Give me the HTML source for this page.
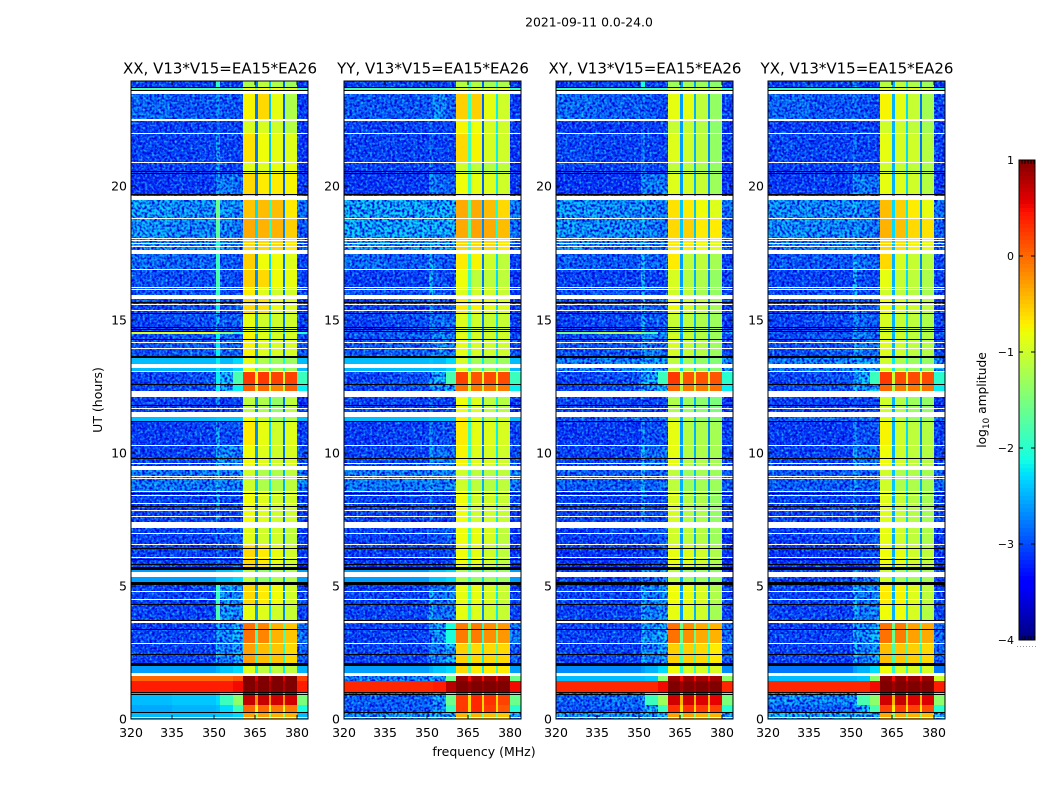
<!DOCTYPE html>
<html>
<head>
<meta charset="utf-8">
<style>
html,body{margin:0;padding:0;background:#fff;}
svg{display:block;font-family:"DejaVu Sans","Liberation Sans",sans-serif;}
</style>
</head>
<body>
<svg id="chart" width="1050" height="800" viewBox="0 0 1050 800" xmlns="http://www.w3.org/2000/svg">
<defs>
<filter id="speckle-dark" x="0" y="0" width="100%" height="100%" color-interpolation-filters="sRGB">
<feTurbulence type="fractalNoise" baseFrequency="0.4" numOctaves="1" seed="3" result="n"/>
<feColorMatrix in="n" type="matrix" values="0 0 0 0 0  0 0 0 0 0  0 0 0 0 0.86  3.5 0 0 0 -1.35" result="c"/>
<feComposite in="c" in2="SourceGraphic" operator="in"/>
</filter>
<filter id="speckle-light" x="0" y="0" width="100%" height="100%" color-interpolation-filters="sRGB">
<feTurbulence type="fractalNoise" baseFrequency="0.44" numOctaves="1" seed="11" result="n"/>
<feColorMatrix in="n" type="matrix" values="0 0 0 0 0.2  0 0 0 0 0.85  0 0 0 0 1  0 2.4 0 0 -1.15" result="c"/>
<feComposite in="c" in2="SourceGraphic" operator="in"/>
</filter>
</defs>
<rect x="0" y="0" width="1050" height="800" fill="#fff"/>
<text x="589" y="26.5" font-size="12.4" text-anchor="middle" fill="#000">2021-09-11 0.0-24.0</text>
</svg>
<script>
// frequency channel edges (MHz): bg0,bg1,line,ramp1,ramp2,s1,n1,s2,n2,s3,n3,s4,edge
const freqEdges = [320,335,350.7,352,357,360.4,364.8,365.8,369.8,370.6,374.9,375.6,380,384];
// time band edges (UT hours, descending)
const timeEdges = [23.96,23.73,23.5,22.52,21.99,20.92,20.52,19.57,18.8,18.07,17.53,16.89,16.18,15.85,15.23,14.52,14.46,13.6,13.08,12.58,12.21,11.44,11.18,10.29,9.42,8.57,7.29,6.5,5.6,5.09,4.28,3.64,2.85,2.05,1.68,1.43,0.97,0.53,0.26,0];

// log10 amplitude per time band, per frequency channel
const levelsXX = [
[-3,-3,-2,-3,-3,-1.2,-2.8,-1.1,-2.4,-1.2,-2.9,-1.3,-3.1],
[-1.8,-1.8,-1.7,-1.8,-1.8,-0.8,-1.5,-0.8,-1.5,-0.8,-1.5,-0.9,-1.9],
[-2.75,-2.85,-2.6,-2.85,-2.9,-0.75,-2.8,-0.6,-2.4,-0.85,-2.9,-1.2,-3.05],
[-3,-3,-2.8,-3,-3,-0.95,-2.8,-0.95,-2.4,-1,-2.9,-1.15,-3.1],
[-3,-3,-2.4,-3,-3,-0.65,-2.8,-0.8,-2.4,-0.85,-2.9,-0.9,-3.1],
[-3,-3,-2.4,-3,-3,-0.9,-2.8,-0.9,-2.4,-0.85,-2.9,-0.85,-3.1],
[-3.1,-3.05,-2.5,-2.6,-2.7,-0.6,-2.8,-0.7,-2.4,-0.7,-2.9,-0.75,-3.1],
[-2.35,-2.45,-1.6,-2.4,-2.5,-0.5,-2.3,-0.45,-2,-0.45,-2.7,-0.7,-2.7],
[-2.4,-2.5,-1.7,-2.5,-2.6,-0.35,-2.3,-0.4,-2,-0.4,-2.7,-0.55,-2.8],
[-2.5,-2.6,-2,-2.5,-2.6,-0.6,-2.4,-0.6,-2.1,-0.6,-2.7,-0.7,-2.8],
[-2.7,-2.75,-1.9,-2.8,-2.9,-0.55,-2.7,-0.8,-2.3,-0.8,-2.8,-0.9,-3],
[-2.9,-2.9,-1.8,-2.9,-3,-0.55,-2.7,-0.6,-2.3,-0.8,-2.8,-0.85,-3],
[-2.85,-2.9,-1.9,-2.9,-3,-0.7,-2.7,-0.9,-2.3,-1,-2.8,-1,-3],
[-3,-2.9,-2.2,-2.9,-2.8,-0.6,-2.6,-0.65,-2.3,-0.85,-2.8,-0.9,-3],
[-3,-2.9,-2.3,-2.8,-2.8,-0.85,-2.6,-1,-2.3,-1,-2.8,-1,-3],
[-0.9,-0.8,-1,-1.4,-2,-0.8,-2,-0.9,-2,-1,-2.2,-1,-2],
[-2.9,-2.8,-2.2,-2.7,-2.8,-0.75,-2.6,-0.9,-2.3,-0.95,-2.8,-0.95,-2.9],
[-2.45,-2.45,-2.2,-2.45,-2.3,-0.85,-2,-1.2,-1.9,-1.3,-2.1,-1.3,-2.45],
[-3,-2.9,-2.2,-2.3,-1.8,0.25,-0.9,0.25,-0.9,0.2,-1,0.2,-1.9],
[-3,-2.9,-2.2,-2.4,-2.2,0.05,-1.1,0,-1.1,-0.15,-1.2,0.05,-2.2],
[-3,-3,-2.6,-3,-3,-1.1,-2.7,-1.2,-2.4,-1.35,-2.8,-1.1,-3.1],
[-2.45,-2.45,-2.4,-2.4,-2.4,-0.8,-2.2,-1,-2.2,-1.3,-2.3,-1.2,-2.45],
[-3.05,-3,-2.4,-2.9,-2.9,-0.7,-2.7,-0.85,-2.3,-1,-2.8,-0.9,-3],
[-3,-3,-2.3,-2.5,-2.6,-0.8,-2.6,-0.9,-2.3,-1,-2.8,-0.95,-2.9],
[-2.6,-2.6,-2.3,-2.6,-2.5,-1,-2.4,-1.2,-2.2,-1.2,-2.5,-1.1,-2.6],
[-3,-3,-2.4,-3,-3,-0.8,-2.7,-0.9,-2.4,-1,-2.8,-1,-3],
[-3,-3,-2.8,-2.9,-2.8,-0.9,-2.7,-1,-2.4,-1,-2.8,-1.1,-3.1],
[-3,-3,-2.7,-3,-2.9,-0.6,-2.7,-0.7,-2.4,-0.85,-2.8,-1,-3.1],
[-2.6,-2.6,-2.4,-2.4,-2.3,-1.1,-2.4,-1.35,-2.2,-1.2,-2.5,-1.2,-2.6],
[-3,-3,-1.9,-2.4,-2.5,-0.6,-2.6,-0.7,-2.3,-0.8,-2.7,-1,-3],
[-3,-3,-1.8,-2.4,-2.5,-0.85,-2.6,-0.9,-2.3,-1,-2.7,-1.05,-3],
[-3,-3,-2.4,-2.5,-2.3,-0.05,-1.8,-0.15,-1.6,-0.4,-1.8,-0.5,-2.6],
[-3,-3,-2.3,-2.6,-2.4,-0.3,-2,-0.45,-1.7,-0.5,-2,-0.6,-2.8],
[-2.6,-2.6,-2.5,-2.4,-2.3,-0.9,-2.2,-1.1,-2,-1.1,-2.2,-1.1,-2.5],
[0,0,0,0,0.1,1,0.6,1,0.6,1,0.6,1,0.2],
[0.4,0.4,0.4,0.4,0.5,1,0.8,1,0.8,1,0.8,1,0.4],
[-2.45,-2.4,-2.3,-1.9,-1.4,0.7,-0.2,0.7,-0.2,0.65,-0.2,0.65,-1.5],
[-2.55,-2.5,-2.45,-2.3,-1.9,0,-0.9,0,-0.9,-0.1,-0.9,-0.1,-2.1],
[-2.45,-2.45,-2.4,-2.4,-2.3,-0.3,-1.4,-0.3,-1.4,-0.4,-1.4,-0.4,-2.45]
];
const levelsYY = [
[-3,-3,-2.9,-3,-3,-1.15,-1.9,-1.15,-2.9,-1.25,-2.2,-1.2,-3.1],
[-1.8,-1.8,-1.8,-1.8,-1.8,-0.9,-1.4,-0.9,-1.6,-0.9,-1.4,-0.9,-1.9],
[-2.85,-2.85,-2.7,-2.5,-2.8,-0.55,-1.9,-0.55,-2.9,-0.85,-2.2,-1,-3.05],
[-3,-3,-2.8,-3,-3,-0.75,-1.9,-0.8,-2.9,-0.95,-2.2,-1,-3.1],
[-3,-3,-2.8,-3,-3,-0.6,-1.9,-0.75,-2.9,-0.95,-2.2,-1,-3.1],
[-3,-3,-2.7,-3,-3,-1,-1.9,-1.1,-2.9,-1.15,-2.2,-1.1,-3.1],
[-3.1,-3.05,-2.5,-2.7,-2.8,-0.8,-1.9,-0.85,-2.9,-0.9,-2.2,-1,-3.1],
[-2.3,-2.3,-2.3,-2.3,-2.3,-0.35,-1.7,-0.35,-2.7,-0.45,-2.1,-0.6,-2.6],
[-2.3,-2.3,-2.3,-2.3,-2.3,-0.35,-1.7,-0.3,-2.7,-0.35,-2.1,-0.45,-2.7],
[-2.4,-2.5,-2.3,-2.4,-2.5,-0.6,-1.8,-0.6,-2.7,-0.6,-2.2,-0.7,-2.8],
[-2.7,-2.8,-2.3,-2.8,-2.9,-0.7,-1.9,-0.75,-2.8,-1,-2.3,-1.1,-3.05],
[-3,-3,-2.3,-2.9,-3,-0.8,-1.9,-1.1,-2.8,-1.1,-2.3,-1.1,-3.05],
[-2.9,-2.9,-2.3,-2.9,-3,-0.9,-1.9,-1,-2.8,-1,-2.3,-1.05,-3.05],
[-3,-2.95,-2.6,-2.9,-2.9,-0.7,-1.9,-0.75,-2.8,-0.85,-2.3,-0.9,-3],
[-3,-2.9,-2.6,-2.7,-2.7,-0.9,-1.9,-1,-2.8,-1.05,-2.3,-1.05,-3],
[-2.9,-2.8,-2.6,-2.6,-2.7,-1,-1.9,-1,-2.8,-1,-2.3,-1,-3],
[-2.9,-2.8,-2.6,-2.5,-2.6,-0.85,-1.9,-0.95,-2.8,-1,-2.3,-1,-2.9],
[-2.45,-2.45,-2.4,-2.45,-2.3,-0.95,-1.9,-1.25,-2.2,-1.3,-2.1,-1.3,-2.45],
[-3,-2.9,-2.5,-2.3,-1.8,0.2,-0.9,0.1,-1,0.15,-0.9,0.15,-1.9],
[-3,-2.9,-2.5,-2.5,-2.3,-0.05,-1.1,-0.1,-1.2,-0.1,-1.1,-0.1,-2.2],
[-3,-3,-2.7,-3,-3,-0.8,-1.9,-0.9,-2.7,-1.1,-2.2,-1.15,-3.1],
[-2.45,-2.45,-2.4,-2.4,-2.4,-0.7,-1.9,-0.9,-2.3,-1.1,-2.2,-1,-2.45],
[-3.05,-3,-2.6,-2.9,-2.9,-0.7,-1.9,-0.85,-2.8,-0.9,-2.2,-0.95,-3],
[-3,-3,-2.5,-2.7,-2.7,-0.75,-1.9,-0.9,-2.8,-0.95,-2.2,-1,-2.9],
[-2.6,-2.6,-2.4,-2.6,-2.5,-1,-1.9,-1.1,-2.5,-1.15,-2.2,-1.1,-2.6],
[-3,-3,-2.7,-3,-3,-0.8,-1.9,-1,-2.8,-1,-2.2,-1.05,-3],
[-3,-3,-2.9,-2.9,-2.8,-0.8,-1.9,-0.85,-2.8,-0.95,-2.2,-1.1,-3.1],
[-3.05,-3.05,-2.9,-3,-2.9,-0.8,-1.9,-0.85,-2.8,-1,-2.2,-1.1,-3.1],
[-2.6,-2.6,-2.4,-2.4,-2.3,-1.2,-1.9,-1.35,-2.3,-1.3,-2.1,-1.3,-2.6],
[-3,-3,-2.3,-2.7,-2.6,-0.85,-1.9,-0.85,-2.7,-0.95,-2.2,-1.05,-3],
[-3,-3,-2.3,-2.7,-2.6,-0.85,-1.9,-0.9,-2.7,-1,-2.2,-1.05,-3],
[-3,-3,-2.5,-2.4,-2.1,-0.1,-1.4,-0.1,-2,-0.2,-1.5,-0.25,-2.6],
[-3,-3,-2.5,-2.6,-2.3,-0.55,-1.6,-0.6,-2.2,-0.6,-1.7,-0.6,-2.8],
[-2.6,-2.6,-2.5,-2.4,-2.3,-0.6,-1.7,-0.7,-2.2,-0.7,-1.9,-0.7,-2.6],
[-2.6,-2.6,-2.4,-2.4,-1.6,0.9,0.5,0.9,0.5,0.9,0.5,0.9,-1.6],
[0.35,0.35,0.35,0.4,0.75,1,0.9,1,0.9,1,0.9,1,0.5],
[-2.8,-2.8,-2.7,-2.4,-1.6,0.25,-0.6,0.35,-0.6,0.3,-0.6,0.2,-1.6],
[-2.9,-2.8,-2.7,-2.5,-1.9,0.25,-0.6,0.35,-0.6,0.25,-0.6,0.1,-2],
[-2.5,-2.4,-2.4,-2.3,-2.3,-0.4,-1.4,-0.4,-1.6,-0.45,-1.5,-0.5,-2.4]
];
const levelsXY = [
[-3,-3,-2.1,-3,-3,-1.3,-2.6,-1.25,-2.6,-1.3,-2.7,-1.4,-3.1],
[-1.9,-1.9,-1.8,-1.9,-1.9,-1,-1.6,-1,-1.6,-1,-1.6,-1.1,-2],
[-2.7,-2.8,-2.7,-2.85,-2.95,-0.85,-2.6,-0.85,-2.5,-1.1,-2.7,-1.35,-3],
[-3.05,-3.05,-2.9,-3,-3,-1.05,-2.6,-1.05,-2.5,-1.15,-2.7,-1.4,-3.05],
[-2.95,-3,-2.7,-3,-3,-0.9,-2.6,-1,-2.5,-1.1,-2.7,-1.35,-3.05],
[-3,-3,-2.6,-3,-3,-1.1,-2.6,-1.1,-2.5,-1.2,-2.7,-1.35,-3.05],
[-3.1,-3.1,-2.5,-2.6,-2.6,-0.9,-2.6,-0.95,-2.5,-1.05,-2.7,-1.3,-3.1],
[-2.4,-2.45,-2.3,-2.5,-2.6,-0.65,-2.4,-0.7,-2.4,-0.8,-2.6,-0.9,-2.7],
[-2.4,-2.45,-2.3,-2.55,-2.65,-0.6,-2.4,-0.55,-2.4,-0.7,-2.6,-0.7,-2.8],
[-2.5,-2.6,-2.3,-2.6,-2.7,-0.7,-2.4,-0.7,-2.4,-0.8,-2.6,-0.9,-2.8],
[-2.8,-2.85,-2.3,-2.7,-2.8,-0.7,-2.6,-1.1,-2.5,-1.1,-2.7,-1.25,-3],
[-3,-3,-2.3,-3,-3,-0.95,-2.6,-1.15,-2.5,-1.2,-2.7,-1.35,-3],
[-2.9,-2.9,-2.3,-2.9,-3,-1,-2.6,-1.1,-2.5,-1.25,-2.7,-1.35,-3],
[-3,-2.85,-2.3,-2.8,-2.8,-0.8,-2.6,-0.95,-2.5,-1.05,-2.7,-1.25,-3],
[-3,-2.95,-2.4,-2.8,-2.8,-1.05,-2.6,-1.1,-2.5,-1.2,-2.7,-1.3,-3],
[-1.5,-1.2,-1.6,-1.8,-2.4,-1.1,-2.4,-1.1,-2.4,-1.2,-2.4,-1.3,-2.4],
[-2.9,-2.85,-2.3,-2.6,-2.7,-0.95,-2.6,-1.05,-2.5,-1.15,-2.7,-1.3,-2.95],
[-2.6,-2.55,-2.3,-2.4,-2.4,-1.1,-2.3,-1.25,-2.3,-1.35,-2.4,-1.45,-2.5],
[-3,-2.9,-2.3,-2.3,-1.9,0.25,-1,0.1,-1,0.1,-1,0.1,-2],
[-3,-2.9,-2.3,-2.5,-2.3,0,-1.2,-0.1,-1.2,-0.1,-1.2,-0.05,-2.2],
[-3,-3,-2.8,-3,-3,-1.2,-2.6,-1.3,-2.5,-1.4,-2.7,-1.5,-3.1],
[-2.8,-2.8,-2.7,-2.7,-2.7,-1,-2.5,-1.2,-2.4,-1.35,-2.6,-1.4,-2.8],
[-3.05,-3.05,-2.6,-2.9,-2.9,-0.85,-2.6,-1.15,-2.5,-1.2,-2.7,-1.25,-3],
[-3,-3,-2.3,-2.7,-2.7,-0.85,-2.6,-1.15,-2.5,-1.2,-2.7,-1.25,-3],
[-2.8,-2.8,-2.3,-2.8,-2.7,-1.1,-2.5,-1.3,-2.4,-1.25,-2.6,-1.3,-2.8],
[-3,-3,-2.5,-3,-3,-0.95,-2.6,-1.15,-2.5,-1.2,-2.7,-1.35,-3],
[-3.05,-3,-2.9,-2.9,-2.8,-1,-2.6,-1.1,-2.5,-1.15,-2.7,-1.3,-3.1],
[-3.1,-3.1,-2.9,-3,-2.9,-0.85,-2.6,-0.9,-2.5,-1,-2.7,-1.2,-3.1],
[-3,-3,-2.5,-2.7,-2.6,-1.1,-2.5,-1.3,-2.4,-1.3,-2.6,-1.35,-3],
[-3,-3,-2.3,-2.6,-2.5,-0.8,-2.6,-0.85,-2.5,-0.95,-2.7,-1.2,-3],
[-3,-3,-2.3,-2.6,-2.5,-0.85,-2.6,-0.9,-2.5,-1,-2.7,-1.25,-3],
[-3,-3,-2.3,-2.5,-2.3,-0.05,-1.6,-0.2,-1.6,-0.35,-1.9,-0.4,-2.7],
[-3,-3,-2.3,-2.6,-2.4,-0.55,-1.8,-0.55,-1.8,-0.6,-2,-0.7,-2.8],
[-2.7,-2.7,-2.6,-2.5,-2.3,-0.8,-2,-0.95,-2,-0.95,-2.2,-0.95,-2.7],
[-2.45,-2.45,-2.45,-2.4,-1.4,0.9,0.5,0.9,0.5,0.85,0.5,0.85,-1.4],
[0.35,0.35,0.35,0.35,0.5,1,0.85,1,0.85,1,0.85,1,0.35],
[-2.8,-2.7,-2.4,-1.9,-1.3,0.65,-0.4,0.65,-0.4,0.6,-0.4,0.55,-1.5],
[-2.9,-2.8,-2.6,-2.3,-1.9,0.3,-0.6,0.3,-0.6,0.25,-0.6,0.2,-2],
[-2.4,-2.4,-2.3,-2.3,-2.3,-0.3,-1.4,-0.3,-1.5,-0.4,-1.5,-0.4,-2.4]
];
const levelsYX = [
[-3,-3,-2.3,-3,-3,-1.15,-2.5,-1.1,-2.3,-1.2,-2.8,-1.3,-3.1],
[-1.9,-1.9,-1.8,-1.9,-1.9,-0.9,-1.6,-0.9,-1.6,-0.9,-1.6,-1,-2],
[-2.75,-2.85,-2.7,-2.85,-2.95,-0.75,-2.5,-0.85,-2.3,-1.05,-2.8,-1.25,-3],
[-3.05,-3.05,-2.9,-3,-3,-1,-2.5,-1,-2.3,-1.1,-2.8,-1.25,-3.05],
[-2.95,-3,-2.7,-3,-3,-0.85,-2.5,-0.95,-2.3,-1,-2.8,-1.15,-3.05],
[-3,-3,-2.6,-2.9,-3,-1,-2.5,-1.05,-2.3,-1.1,-2.8,-1.2,-3.05],
[-3.05,-3,-2.5,-2.6,-2.7,-0.85,-2.5,-0.9,-2.3,-1,-2.8,-1.15,-3.1],
[-2.45,-2.5,-2.3,-2.5,-2.6,-0.45,-2.3,-0.55,-2.2,-0.7,-2.6,-0.85,-2.7],
[-2.45,-2.5,-2.3,-2.55,-2.65,-0.4,-2.3,-0.45,-2.2,-0.6,-2.6,-0.65,-2.8],
[-2.6,-2.6,-2.3,-2.6,-2.7,-0.6,-2.4,-0.65,-2.2,-0.75,-2.6,-0.85,-2.8],
[-2.85,-2.85,-2.3,-2.7,-2.8,-0.6,-2.5,-0.95,-2.3,-1.05,-2.7,-1.15,-3],
[-3,-3,-2.3,-2.9,-3,-0.85,-2.5,-1.05,-2.3,-1.1,-2.7,-1.2,-3],
[-2.9,-2.9,-2.3,-2.9,-3,-1,-2.5,-1.1,-2.3,-1.15,-2.7,-1.25,-3],
[-3,-2.9,-2.4,-2.8,-2.8,-0.8,-2.5,-0.9,-2.3,-1,-2.7,-1.1,-3],
[-3,-2.95,-2.5,-2.7,-2.8,-0.95,-2.5,-1.05,-2.3,-1.1,-2.7,-1.2,-3],
[-2.9,-2.85,-2.5,-2.6,-2.7,-1,-2.4,-1.05,-2.3,-1.1,-2.6,-1.2,-2.9],
[-2.9,-2.85,-2.4,-2.6,-2.7,-0.9,-2.5,-1,-2.3,-1.1,-2.7,-1.15,-2.95],
[-2.6,-2.55,-2.3,-2.4,-2.4,-1,-2.2,-1.2,-2.1,-1.3,-2.4,-1.35,-2.5],
[-3,-2.9,-2.3,-2.3,-1.9,0.25,-1,0.15,-1,0.15,-1,0.15,-2],
[-3,-2.9,-2.3,-2.5,-2.3,0,-1.2,-0.1,-1.2,-0.1,-1.2,-0.05,-2.2],
[-3,-3,-2.8,-3,-3,-1,-2.5,-1.15,-2.3,-1.3,-2.7,-1.35,-3.1],
[-2.8,-2.8,-2.7,-2.7,-2.7,-0.9,-2.4,-1.1,-2.3,-1.3,-2.5,-1.3,-2.8],
[-3.05,-3.05,-2.6,-2.9,-2.9,-0.75,-2.5,-1,-2.3,-1.1,-2.7,-1.15,-3],
[-3,-3,-2.4,-2.7,-2.7,-0.8,-2.5,-1,-2.3,-1.1,-2.7,-1.15,-3],
[-2.8,-2.8,-2.4,-2.8,-2.7,-1,-2.4,-1.2,-2.2,-1.2,-2.5,-1.25,-2.8],
[-3,-3,-2.6,-3,-3,-0.9,-2.5,-1.05,-2.3,-1.15,-2.7,-1.25,-3],
[-3.05,-3,-2.8,-2.9,-2.8,-0.85,-2.5,-1,-2.3,-1.1,-2.7,-1.2,-3.1],
[-3.1,-3.1,-2.9,-3,-2.9,-0.8,-2.5,-0.85,-2.3,-1,-2.7,-1.1,-3.1],
[-3,-3,-2.5,-2.7,-2.6,-1,-2.4,-1.25,-2.2,-1.25,-2.5,-1.25,-3],
[-3,-3,-2.3,-2.6,-2.5,-0.7,-2.5,-0.75,-2.3,-0.9,-2.7,-1.1,-3],
[-3,-3,-2.3,-2.6,-2.5,-0.8,-2.5,-0.8,-2.3,-0.95,-2.7,-1.15,-3],
[-3,-3,-2.3,-2.5,-2.3,-0.05,-1.6,-0.1,-1.6,-0.3,-1.9,-0.35,-2.7],
[-3,-3,-2.3,-2.6,-2.4,-0.45,-1.8,-0.5,-1.8,-0.55,-2,-0.6,-2.8],
[-2.8,-2.8,-2.6,-2.5,-2.3,-0.8,-2,-0.95,-2,-0.95,-2.2,-0.95,-2.8],
[-2.45,-2.45,-2.45,-2.4,-1.4,0.95,0.5,0.95,0.5,0.9,0.5,0.9,-1],
[0.35,0.35,0.35,0.35,0.5,1,0.85,1,0.85,1,0.85,1,0.4],
[-2.5,-2.5,-2.3,-1.8,-1.4,0.65,-0.4,0.7,-0.4,0.6,-0.4,0.6,-1.4],
[-2.8,-2.8,-2.6,-2.3,-1.8,0.2,-0.7,0.25,-0.7,0.2,-0.7,0.15,-2],
[-2.3,-2.3,-2.3,-2.3,-2.3,-0.35,-1.4,-0.35,-1.5,-0.4,-1.5,-0.45,-2.3]
];

// time bands (indices into timeEdges) that look smooth rather than noisy, per panel
const smoothBandsXX = [17,21,28,33,36,37,38];
const smoothBandsYY = [17,21,28,33];
const smoothBandsXY = [33,34];
const smoothBandsYX = [33,34];

// flagged (white) time ranges and single flagged integrations
const flagBands = [[23.49,23.58],[19.49,19.64],[17.46,17.6],[15.77,15.92],[13.17,13.33],[12.1,12.32],[11.35,11.53],[9.35,9.5],[7.17,7.41],[5.33,5.49],[3.59,3.68],[1.61,1.74]];
const flagLines = [22.55,22.49,21.99,20.92,18.8,18.07,17.99,17.86,17.77,16.89,16.23,16.14,15.58,15.36,14.15,13.92,13.08,11.68,10.29,9.62,9.13,9.05,8.57,8.42,8.1,7.85,7.62,6.97,6.56,6.07,5.53,4.82,4.49,2.87,0.06];
// dropouts (black)
const dropBands = [[13.56,13.63],[5.61,5.71],[5.05,5.13],[2,2.09]];
const dropLines = [23.73,23.62,20.58,20.5,19.71,15.65,15.23,14.73,14.65,14.57,14.28,12.58,11.78,11.18,9.81,8.5,8.01,6.43,6,5.83,4.31,3.71,3.37,2.44,1.03,0.93,0.26];

const panelTitles = ["XX, V13*V15=EA15*EA26","YY, V13*V15=EA15*EA26","XY, V13*V15=EA15*EA26","YX, V13*V15=EA15*EA26"];
const panelCodes = ["xx","yy","xy","yx"];
const panelLevels = [levelsXX,levelsYY,levelsXY,levelsYX];
const panelSmooth = [smoothBandsXX,smoothBandsYY,smoothBandsXY,smoothBandsYX];
const panelLefts = [131,344,556,768];
const freqTicks = [320,335,350,365,380];
const hourTicks = [0,5,10,15,20];
const colorTicks = [1,0,-1,-2,-3,-4];

const NS = "http://www.w3.org/2000/svg";
const svg = document.getElementById("chart");
const plotTop = 81, plotBottom = 719, plotWidth = 177;
const freqMin = 320, freqMax = 384, hourMin = 0, hourMax = 23.96;
const cbTop = 160, cbBottom = 640, cbLeft = 1019, cbRight = 1035, vMin = -4, vMax = 1;
const noiseColumns = [0,1,2,3,4,12];
const noiseCeiling = -2.25;

function xScale(left, f){ return left + (f - freqMin) / (freqMax - freqMin) * plotWidth; }
function yScale(h){ return plotBottom - (h - hourMin) / (hourMax - hourMin) * (plotBottom - plotTop); }
function cbScale(v){ return cbTop + (vMax - v) / (vMax - vMin) * (cbBottom - cbTop); }
function piece(t, pts){
  for (let i = 1; i < pts.length; i++) {
    if (t <= pts[i][0]) {
      const a = pts[i-1], b = pts[i];
      return a[1] + (b[1]-a[1]) * (t-a[0]) / (b[0]-a[0]);
    }
  }
  return pts[pts.length-1][1];
}
function jet(v){
  const t = Math.max(0, Math.min(1, (v - vMin) / (vMax - vMin)));
  const r = piece(t, [[0,0],[0.35,0],[0.66,1],[0.89,1],[1,0.5]]);
  const g = piece(t, [[0,0],[0.125,0],[0.375,1],[0.64,1],[0.91,0],[1,0]]);
  const b = piece(t, [[0,0.5],[0.11,1],[0.34,1],[0.65,0],[1,0]]);
  return "rgb(" + Math.round(r*255) + "," + Math.round(g*255) + "," + Math.round(b*255) + ")";
}
function mk(tag, attrs, parent){
  const el = document.createElementNS(NS, tag);
  for (const k in attrs) el.setAttribute(k, attrs[k]);
  (parent || svg).appendChild(el);
  return el;
}

panelTitles.forEach(function(title, p){
  const left = panelLefts[p];
  const code = panelCodes[p];
  const levels = panelLevels[p];
  const smooth = panelSmooth[p];
  const right = left + plotWidth;

  const g = mk("g", {"shape-rendering":"crispEdges"});
  
  

  levels.forEach(function(row, r){
    const y0 = Math.round(yScale(timeEdges[r]));
    const y1 = Math.round(yScale(timeEdges[r+1]));
    row.forEach(function(v, c){
      const x0 = Math.round(xScale(left, freqEdges[c]));
      const x1 = Math.round(xScale(left, freqEdges[c+1]));
      const cell = mk("rect", {x:x0, y:y0, width:x1-x0, height:y1-y0, fill:jet(v)}, g);
      
      
    });
  });

  ["speckle-dark","speckle-light"].forEach(function(fid){
    const sg = mk("g", {filter:"url(#" + fid + ")"}, g);
    
    
    levels.forEach(function(row, r){
      if (smooth.indexOf(r) >= 0) return;
      const y0 = Math.round(yScale(timeEdges[r]));
      const y1 = Math.round(yScale(timeEdges[r+1]));
      noiseColumns.forEach(function(c){
        if (row[c] < noiseCeiling) {
          const x0 = Math.round(xScale(left, freqEdges[c]));
          const x1 = Math.round(xScale(left, freqEdges[c+1]));
          mk("rect", {x:x0, y:y0, width:x1-x0, height:y1-y0, fill:"#fff"}, sg);
        }
      });
    });
  });

  flagBands.forEach(function(b){
    const y0 = Math.round(yScale(b[1])), y1 = Math.round(yScale(b[0]));
    const el = mk("rect", {x:left, y:y0, width:plotWidth, height:Math.max(1,y1-y0), fill:"#fff"}, g);
    
    
  });
  flagLines.forEach(function(h){
    const el = mk("rect", {x:left, y:Math.round(yScale(h)), width:plotWidth, height:1, fill:"#fff"}, g);
    
    
  });
  dropBands.forEach(function(b){
    const y0 = Math.round(yScale(b[1])), y1 = Math.round(yScale(b[0]));
    const el = mk("rect", {x:left, y:y0, width:plotWidth, height:Math.max(1,y1-y0), fill:"#000"}, g);
    
    
  });
  dropLines.forEach(function(h){
    const el = mk("rect", {x:left, y:Math.round(yScale(h)), width:plotWidth, height:1, fill:"#000"}, g);
    
    
  });

  const frame = mk("rect", {x:left, y:plotTop, width:plotWidth, height:plotBottom-plotTop, fill:"none", stroke:"#000", "stroke-width":1});
  
  

  const t = mk("text", {x:left + plotWidth/2 + 0.5, y:73.5, "font-size":"15", "text-anchor":"middle", fill:"#000"});
  t.textContent = title;
  
  

  freqTicks.forEach(function(f){
    const x = Math.round(xScale(left, f));
    const a = mk("line", {x1:x, x2:x, y1:plotBottom, y2:plotBottom-4, stroke:"#000", "stroke-width":1, "shape-rendering":"crispEdges"});
    
    
    const b = mk("line", {x1:x, x2:x, y1:plotTop, y2:plotTop+4, stroke:"#000", "stroke-width":1, "shape-rendering":"crispEdges"});
    
    
    const l = mk("text", {x:x, y:737, "font-size":"12.5", "text-anchor":"middle", fill:"#000"});
    l.textContent = f;
    
    
  });
  hourTicks.forEach(function(h){
    const y = Math.round(yScale(h));
    const a = mk("line", {x1:left, x2:left+4, y1:y, y2:y, stroke:"#000", "stroke-width":1, "shape-rendering":"crispEdges"});
    
    
    const b = mk("line", {x1:right, x2:right-4, y1:y, y2:y, stroke:"#000", "stroke-width":1, "shape-rendering":"crispEdges"});
    
    
    const l = mk("text", {x:left-4, y:y+4.5, "font-size":"12.5", "text-anchor":"end", fill:"#000"});
    l.textContent = h;
    
    
  });
});

const yTitle = mk("text", {x:102, y:400, "font-size":"12.5", "text-anchor":"middle", fill:"#000", transform:"rotate(-90 102 400)"});
yTitle.textContent = "UT (hours)";


const xTitle = mk("text", {x:484, y:756, "font-size":"12.5", "text-anchor":"middle", fill:"#000"});
xTitle.textContent = "frequency (MHz)";



// colorbar
const cb = mk("g", {"shape-rendering":"crispEdges"});


const cbSteps = 120;
for (let i = 0; i < cbSteps; i++) {
  const v0 = vMax - (vMax - vMin) * i / cbSteps;
  const v1 = vMax - (vMax - vMin) * (i + 1) / cbSteps;
  const s = mk("rect", {x:cbLeft, y:cbScale(v0), width:cbRight-cbLeft, height:cbScale(v1)-cbScale(v0)+0.5, fill:jet((v0+v1)/2)}, cb);
  
  
}
const cbFrame = mk("rect", {x:cbLeft, y:cbTop, width:cbRight-cbLeft, height:cbBottom-cbTop, fill:"none", stroke:"#000", "stroke-width":1});


colorTicks.forEach(function(v){
  const y = Math.round(cbScale(v));
  if (v < vMax && v > vMin) {
    const a = mk("line", {x1:cbLeft, x2:cbLeft+4, y1:y, y2:y, stroke:"#000", "shape-rendering":"crispEdges"});
    
    
    const b = mk("line", {x1:cbRight, x2:cbRight-4, y1:y, y2:y, stroke:"#000", "shape-rendering":"crispEdges"});
    
    
  }
  const l = mk("text", {x:1014, y:y+4, "font-size":"11", "text-anchor":"end", fill:"#000"});
  l.textContent = v < 0 ? "\u2212" + (-v) : String(v);
  
  
});
for (let x = cbLeft + 3; x < cbRight; x += 3) {
  const a = mk("line", {x1:x, x2:x, y1:cbTop, y2:cbTop+4, stroke:"#000", "shape-rendering":"crispEdges"});
  
  
  const b = mk("line", {x1:x, x2:x, y1:cbBottom, y2:cbBottom-4, stroke:"#000", "shape-rendering":"crispEdges"});
  
  
}
for (let x = cbLeft - 2; x <= cbRight; x += 3) {
  const d = mk("rect", {x:x, y:646, width:1, height:1, fill:"#999", "shape-rendering":"crispEdges"});
  
  
}
const cbTitle = mk("text", {x:986, y:400, "font-size":"12.2", "text-anchor":"middle", fill:"#000", transform:"rotate(-90 986 400)"});


const ts1 = mk("tspan", {}, cbTitle);
ts1.textContent = "log";
const ts2 = mk("tspan", {dy:3, "font-size":"9"}, cbTitle);
ts2.textContent = "10";
const ts3 = mk("tspan", {dy:-3}, cbTitle);
ts3.textContent = " amplitude";
</script>
</body>
</html>
